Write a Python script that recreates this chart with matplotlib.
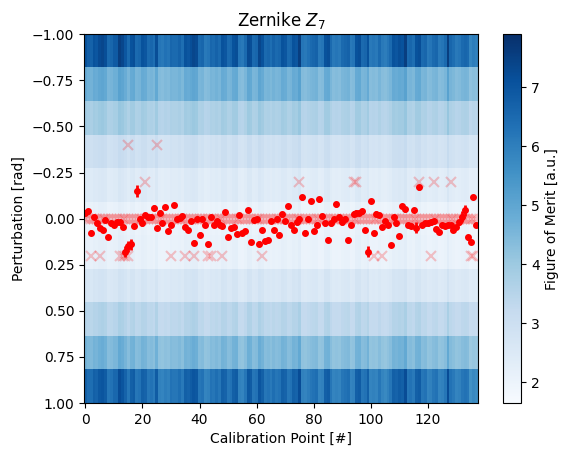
import matplotlib
matplotlib.use("Agg")
import matplotlib.pyplot as plt
import numpy as np

# perturbation rows of the figure-of-merit map (top -> bottom)
perturbations = [-1.0, -0.8, -0.6, -0.4, -0.2, 0.0, 0.2, 0.4, 0.6, 0.8, 1.0]
row_mean = [6.6, 4.6, 3.7, 2.9, 2.4, 2.05, 2.1, 2.6, 3.4, 4.4, 6.3]
row_amp = [0.95, 0.5, 0.4, 0.3, 0.25, 0.2, 0.2, 0.25, 0.35, 0.5, 0.9]

# per calibration point shading (-1 light .. 1 dark)
col_shade = [
    0.5, 0.2, 0.1, 0.5, 0.4, 0.7, 0.8, 0.6, -0.1, 0.0,
    0.3, 0.3, 1.0, 0.8, 0.4, -0.1, 0.5, 0.6, -0.1, 0.0,
    0.5, 0.4, -0.1, 0.0, -0.2, 0.6, -0.4, -0.5, -0.3, -0.4,
    0.0, -0.1, -0.1, 0.1, -0.2, 0.5, 0.4, 0.6, 0.8, 0.7,
    -0.1, 0.0, -0.5, -0.4, 0.0, -0.1, 0.1, -0.1, 0.5, 0.4,
    -0.1, 0.0, 0.5, 0.6, -0.4, -0.5, -0.1, 0.7, 0.6, -0.1,
    0.0, 0.8, 0.5, -0.1, 0.0, -0.2, 0.1, -0.1, 0.0, 0.5,
    0.4, -0.1, 0.0, 0.5, 0.4, 1.0, -0.4, -0.5, -0.3, -0.1,
    0.0, 0.1, -0.5, -0.4, 0.5, 0.6, -0.1, -0.5, -0.4, -0.5,
    -0.1, 0.0, 0.1, -0.5, -0.4, 0.5, 0.6, -0.1, 0.0, 0.5,
    -0.5, -0.4, -0.5, -0.1, -0.5, -0.6, -0.4, -0.1, 0.5, 0.4,
    0.6, 0.5, 1.0, -0.1, 0.0, -0.2, 0.5, 0.6, -0.1, 0.0,
    -0.5, -0.4, -0.1, 0.0, -0.5, -0.4, -0.1, 1.0, 0.0, -0.2,
    -0.5, -0.4, -0.1, 0.0, -0.1, -0.8, -0.6, -0.7,
]

# estimated perturbation per calibration point
estimate = [
    -0.03, -0.04, 0.075, -0.01, 0.026, 0.05, 0.062, 0.008, 0.10, 0.026,
    0.035, 0.02, 0.02, 0.044, 0.18, 0.15, 0.14, 0.04, -0.15, 0.0,
    0.026, -0.02, -0.01, -0.01, -0.06, 0.05, -0.033, 0.024, -0.062, 0.066,
    0.032, -0.073, 0.0, -0.005, -0.015, 0.046, 0.062,
    0.014, 0.13, 0.0, 0.086, 0.0, 0.032, 0.14, -0.008, 0.035,
    0.014, 0.032, 0.04, -0.037, 0.10, 0.05, 0.044, 0.084, -0.02, 0.077,
    0.068, -0.046, 0.126, 0.008, 0.003, 0.135, 0.062, 0.12, 0.117, 0.014,
    0.062, 0.0, 0.086, -0.023,
    0.014, -0.068, 0.035, 0.06, 0.02, 0.0, -0.115, 0.075, 0.0, -0.095,
    0.066, 0.032, -0.105, -0.015, 0.026, 0.113, 0.026, 0.003, -0.077, -0.01,
    0.02, 0.0, 0.118, 0.035, -0.028, -0.033, -0.033, -0.04, 0.06, 0.18,
    -0.095, 0.08, -0.028,
    -0.02, 0.044, 0.014, 0.032, 0.144, -0.01, 0.026, 0.095, -0.07, -0.05,
    0.035, 0.04, -0.046, 0.05, -0.17, 0.035, 0.026, 0.026, 0.02, 0.014,
    0.057, 0.072, 0.035, 0.04, 0.035, 0.035, 0.062, 0.044, 0.02, -0.01,
    -0.046, 0.102, 0.126, -0.116, 0.035,
]
estimate_err = [0.012] * len(estimate)
for k in [14, 15, 16, 18, 99, 116, 132, 133]:
    estimate_err[k] = 0.03

# true perturbations that are not zero
true_idx = [15, 25, 21, 75, 94, 95, 117, 122, 128,
            2, 5, 12, 13, 14, 15, 30, 35, 38, 43, 44, 48, 62, 101, 104, 121, 135, 136]
true_val = [-0.4, -0.4, -0.2, -0.2, -0.2, -0.2, -0.2, -0.2, -0.2,
            0.2, 0.2, 0.2, 0.2, 0.2, 0.2, 0.2, 0.2, 0.2, 0.2, 0.2, 0.2, 0.2, 0.2, 0.2, 0.2, 0.2, 0.2]

n = len(col_shade)
fom = np.array(row_mean)[:, None] + np.array(row_amp)[:, None] * np.array(col_shade)[None, :]

fig = plt.figure(figsize=(5.69, 4.57), dpi=100)
ax = fig.add_axes([0.1476, 0.118, 0.692, 0.807])
cax = fig.add_axes([0.884, 0.118, 0.032, 0.807])

im = ax.imshow(fom, cmap="Blues", aspect="auto", extent=[-0.5, n - 0.5, 1, -1],
               vmin=1.65, vmax=7.9, interpolation="nearest")

pts = np.arange(n)
ax.plot(pts, np.zeros(n), "x", color="red", alpha=0.22, ms=7, mew=1.5)
ax.plot(true_idx, true_val, "x", color="red", alpha=0.22, ms=7, mew=1.5)
ax.errorbar(np.arange(len(estimate)), estimate, yerr=estimate_err, fmt="o",
            color="red", ms=4, elinewidth=2, capsize=0)

ax.set_xlim(-0.5, n - 0.5)
ax.set_ylim(1, -1)
ax.set_yticks(np.arange(-1, 1.01, 0.25))
ax.set_xticks(np.arange(0, 121, 20))
ax.set_title("Zernike $Z_7$")
ax.set_xlabel("Calibration Point [#]")
ax.set_ylabel("Perturbation [rad]")

cb = fig.colorbar(im, cax=cax)
cb.set_label("Figure of Merit [a.u.]")

fig.savefig("out.png", dpi=100)
